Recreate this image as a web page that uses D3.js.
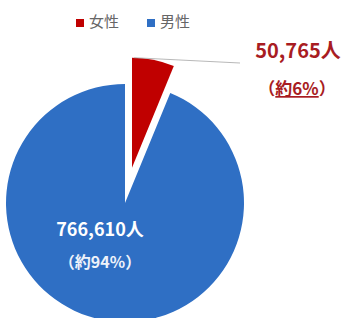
<!DOCTYPE html>
<html>
<head>
<meta charset="utf-8">
<script src="https://cdn.jsdelivr.net/npm/d3@7"></script>
<style>
  body { margin: 0; background: #fff; }
  svg { display: block; font-family: "Noto Sans CJK JP", "Noto Sans", sans-serif; }
</style>
</head>
<body>
<div id="chart"></div>
<script>
const categories = ["女性", "男性"];
const values = [50765, 766610];
const valueLabels = ["50,765人", "766,610人"];
const shareLabels = ["約6%", "約94%"];
const colors = ["#c00000", "#2f6fc4"];

const width = 343, height = 318;
const cx = 125, cy = 203;
const radius = 119;
const femaleRadius = 110;
const explode = 36;

const svg = d3.select("#chart").append("svg")
  .attr("width", width)
  .attr("height", height);

// legend
const legend = svg.append("g").attr("transform", "translate(76,0)");
categories.forEach((c, i) => {
  const g = legend.append("g").attr("transform", "translate(" + (i * 71) + ",0)");
  g.append("rect")
    .attr("x", 0).attr("y", 19)
    .attr("width", 8).attr("height", 8)
    .attr("fill", colors[i]);
  g.append("text")
    .attr("x", 13).attr("y", 27)
    .attr("font-size", 15)
    .attr("fill", "#666666")
    .text(c);
});

const pie = d3.pie().sort(null).value(d => d);
const arcs = pie(values);

const chart = svg.append("g").attr("transform", "translate(" + cx + "," + cy + ")");

// slices, the female one pulled out along its bisector
chart.selectAll("path")
  .data(arcs)
  .enter()
  .append("path")
  .attr("d", (d, i) => d3.arc().innerRadius(0).outerRadius(i === 0 ? femaleRadius : radius)(d))
  .attr("transform", (d, i) => {
    if (i !== 0) return null;
    const mid = (d.startAngle + d.endAngle) / 2;
    return "translate(" + (Math.sin(mid) * explode) + "," + (-Math.cos(mid) * explode) + ")";
  })
  .attr("fill", (d, i) => colors[i]);

// leader line for the female slice
const f = arcs[0];
const fMid = (f.startAngle + f.endAngle) / 2;
const sx = cx + Math.sin(fMid) * explode + Math.sin(f.startAngle + 0.02) * femaleRadius;
const sy = cy - Math.cos(fMid) * explode - Math.cos(f.startAngle + 0.02) * femaleRadius;
svg.append("line")
  .attr("x1", sx).attr("y1", sy)
  .attr("x2", 240).attr("y2", 63)
  .attr("stroke", "#a6a6a6")
  .attr("stroke-width", 0.8);

// female labels
svg.append("text")
  .attr("x", 298).attr("y", 58)
  .attr("text-anchor", "middle")
  .attr("font-size", 20).attr("font-weight", "bold")
  .attr("fill", "#a81c22")
  .text(valueLabels[0]);
const fl = svg.append("text")
  .attr("x", 297).attr("y", 95)
  .attr("text-anchor", "middle")
  .attr("font-size", 17).attr("font-weight", "bold")
  .attr("fill", "#a81c22");
fl.append("tspan").text("（");
fl.append("tspan").attr("text-decoration", "underline").text(shareLabels[0]);
fl.append("tspan").text("）");

// male labels
svg.append("text")
  .attr("x", 100).attr("y", 236)
  .attr("text-anchor", "middle")
  .attr("font-size", 18).attr("font-weight", "bold")
  .attr("fill", "#ffffff")
  .text(valueLabels[1]);
svg.append("text")
  .attr("x", 100).attr("y", 268)
  .attr("text-anchor", "middle")
  .attr("font-size", 16).attr("font-weight", "bold")
  .attr("fill", "#eef2fa")
  .text("（" + shareLabels[1] + "）");
</script>
</body>
</html>
